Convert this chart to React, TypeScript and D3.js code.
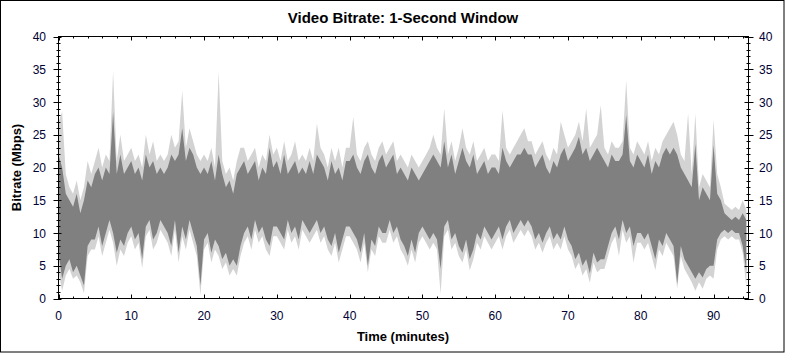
import React from "react";
import * as d3 from "d3";

const W = 785;
const H = 353;

const title = "Video Bitrate: 1-Second Window";
const xLabel = "Time (minutes)";
const yLabel = "Bitrate (Mbps)";
const xTicks = [0, 10, 20, 30, 40, 50, 60, 70, 80, 90];
const yTicks = [0, 5, 10, 15, 20, 25, 30, 35, 40];
const xEnd = 94.8;
const step = 0.5; // minutes per sample

// samples every 0.5 minute, t = 0 ... 94.5
const lightMax = [
  27, 28.5, 19, 17, 16, 18, 15, 17, 21, 19,
  21, 23, 20, 22, 21, 34.7, 21, 25, 21, 22,
  23, 21, 22, 20, 25, 22, 24, 21, 22, 21,
  22, 25, 23, 24, 31.7, 23, 26, 24, 22, 21,
  22, 21, 23, 20, 34.6, 21, 19, 20, 18, 21,
  23, 23, 21, 22, 23, 20, 22, 21, 25, 22,
  23, 21, 24, 21, 22, 24, 21, 22, 21, 23,
  21, 26.7, 23, 22, 20, 23, 21, 23, 20, 23,
  23, 27.7, 22, 21, 23, 24, 22, 21, 23, 24,
  22, 23, 24, 21, 22, 21, 20, 22, 21, 20,
  21, 22, 23, 25, 23, 22, 29, 22, 24, 21,
  23, 26, 23, 22, 24, 21, 22, 23, 21, 22,
  22, 21, 28.7, 23, 22, 23, 24, 25, 26, 24,
  24, 22, 23, 24, 22, 21, 23, 22, 27, 25,
  23, 24, 25, 27, 24, 29, 23, 24, 25, 29.5,
  23, 22, 24, 23, 23, 24, 33.3, 23, 22, 24,
  23, 22, 24, 21, 23, 22, 24, 25, 26, 27,
  25, 22, 21, 28.3, 19, 28.2, 17, 19, 18, 17,
  27.2, 19, 17, 14.5, 14, 13.5, 14, 13.5, 15, 13.5,
];
const darkMax = [
  22, 20, 16, 15, 14, 16, 13, 15, 18, 17,
  19, 20, 18, 20, 19, 28.5, 19, 22, 19, 20,
  21, 19, 20, 18, 22, 20, 21, 19, 20, 19,
  20, 22, 21, 22, 26, 21, 23, 22, 20, 19,
  20, 19, 21, 18, 22, 19, 17, 18, 16, 19,
  20, 21, 19, 20, 21, 18, 20, 19, 23, 20,
  21, 19, 22, 19, 20, 21, 19, 20, 19, 21,
  19, 22, 21, 20, 18, 21, 19, 20, 18, 21,
  21, 22, 20, 19, 21, 22, 20, 19, 21, 22,
  20, 21, 22, 19, 20, 19, 18, 20, 19, 18,
  19, 20, 21, 22, 21, 20, 24, 20, 22, 19,
  21, 23, 21, 20, 22, 19, 20, 21, 19, 20,
  20, 19, 23, 21, 20, 21, 22, 22, 23, 22,
  22, 20, 21, 22, 20, 19, 21, 20, 22, 23,
  21, 22, 23, 24.7, 22, 23, 21, 22, 23, 22,
  21, 20, 22, 21, 21, 22, 28, 21, 20, 22,
  21, 20, 22, 19, 21, 20, 22, 23, 22, 23,
  22, 20, 19, 18, 17, 23.6, 15, 17, 16, 15,
  23.4, 16, 15, 13, 12.5, 12, 12.5, 12, 13, 12,
];
const darkMin = [
  7, 3, 5, 6, 4, 5, 3.5, 2, 8, 9,
  9, 11, 8, 10, 12, 10, 7, 9, 8, 10,
  11, 9, 10, 6, 11, 12, 9, 10, 12, 11,
  10, 8, 12, 7, 11, 9, 12, 10, 8, 2,
  9, 10, 7, 9, 8, 6, 7, 5, 6, 5,
  8, 10, 11, 9, 12, 10, 11, 9, 8, 11,
  11, 10, 9, 12, 10, 11, 9, 12, 11, 10,
  11, 12, 10, 11, 9, 8, 10, 7, 9, 11,
  11, 10, 9, 7, 10, 5, 9, 8, 11, 10,
  10, 12, 10, 11, 9, 8, 6.5, 9, 7, 10,
  11, 10, 9, 10, 9, 4.5, 11, 12, 9, 10,
  8, 7, 9, 6, 7.5, 10, 9, 11, 10, 9,
  10, 11, 9, 11, 12, 10, 11, 12, 11, 12,
  11, 9, 10, 8.5, 10, 11, 9, 10, 9, 11,
  9, 8, 6, 7, 5, 6, 3.8, 7, 5.5, 6,
  6, 8, 10, 11, 9, 12, 10, 11, 8, 10,
  10, 9, 10, 8, 6, 9, 8, 10, 9, 8,
  2.2, 8, 6, 5, 4, 3, 4, 3.2, 4.5, 5,
  5, 9, 10, 10.5, 10, 10.5, 10, 10, 8, 4,
];
const lightMin = [
  4, 1.2, 3.5, 4.5, 3, 3.5, 2.5, 0.8, 6.5, 7.5,
  7.5, 9.5, 6.5, 8.5, 10.5, 8.5, 5, 7.5, 6.5, 8.5,
  9.5, 7.5, 8.5, 4.6, 9.5, 10.5, 7.5, 8.5, 10.5, 9.5,
  8.5, 6.5, 10.5, 5.5, 9.5, 7.5, 10.5, 8.5, 6.5, 0.5,
  7.5, 8.5, 5.5, 7.5, 6.5, 4.5, 5.5, 3.5, 4.5, 3.5,
  6.5, 8.5, 9.5, 7.5, 10.5, 8.5, 9.5, 7.5, 6.5, 9.5,
  9.5, 8.5, 7.5, 10.5, 8.5, 9.5, 7.5, 10.5, 9.5, 8.5,
  9.5, 10.5, 8.5, 9.5, 7.5, 6.5, 8.5, 5.5, 7.5, 9.5,
  9.5, 8.5, 7.5, 5.5, 8.5, 4, 7.5, 6.5, 9.5, 8.5,
  8.5, 10.5, 8.5, 9.5, 7.5, 6.5, 5, 7.5, 5.5, 8.5,
  9.5, 8.5, 7.5, 8.5, 7.5, 0.7, 9.5, 10.5, 7.5, 8.5,
  6.5, 5.5, 7.5, 4.3, 6, 8.5, 7.5, 9.5, 8.5, 7.5,
  8.5, 9.5, 7.5, 9.5, 10.5, 8.5, 9.5, 10.5, 9.5, 10.5,
  9.5, 7.5, 8.5, 7, 8.5, 9.5, 7.5, 8.5, 7.5, 9.5,
  7.5, 6.5, 4.5, 5.5, 3.5, 4.5, 2.4, 5.5, 4, 4.5,
  4.5, 6.5, 8.5, 9.5, 6.5, 10.5, 8.5, 9.5, 5.5, 8.5,
  8.5, 7.5, 8.5, 6.5, 4.3, 7.5, 6.5, 8.5, 7.5, 6.5,
  1.5, 6.5, 4.5, 3.5, 2.5, 1.2, 2.5, 1.5, 3, 3.5,
  3, 7.5, 9, 9.5, 9, 9.5, 9, 9, 7, 1.7,
];

const L = 58.5, R = 748.5, T = 36.5, B = 298.5;

export default function App() {
  const x = d3.scaleLinear().domain([0, xEnd]).range([L, R]);
  const y = d3.scaleLinear().domain([0, 40]).range([B, T]);
  const idx = d3.range(lightMax.length);
  const tOf = (i: number) => i * step;

  const lightArea = d3
    .area<number>()
    .x((i) => x(tOf(i)))
    .y0((i) => y(lightMin[i]))
    .y1((i) => y(lightMax[i]))
    .curve(d3.curveLinear);
  const darkArea = d3
    .area<number>()
    .x((i) => x(tOf(i)))
    .y0((i) => y(darkMin[i]))
    .y1((i) => y(darkMax[i]))
    .curve(d3.curveLinear);

  const minorX = d3.range(0, xEnd, 2).filter((v) => v % 10 !== 0);
  const minorY = d3.range(0, 41, 1).filter((v) => v % 5 !== 0);
  const font = "Arial, 'Liberation Sans', sans-serif";
  const tickColor = "#000033";

  return (
    <svg
      width={W}
      height={H}
      style={{ position: "absolute", left: 0, top: 0, background: "#fff" }}
      fontFamily={font}
    >
      <rect x={0.5} y={0.5} width={783.5} height={351.5} fill="#fff" stroke="#000" />
      <text x={403} y={23} textAnchor="middle" fontSize={15} fontWeight="bold" fill="#000">
        {title}
      </text>
      <defs>
        <clipPath id="plotclip">
          <rect x={L} y={T} width={R - L} height={B - T} />
        </clipPath>
      </defs>
      <g clipPath="url(#plotclip)">
        <path d={lightArea(idx) || ""} fill="#d3d3d3" />
        <path d={darkArea(idx) || ""} fill="#808080" />
      </g>
      <rect x={L} y={T} width={R - L} height={B - T} fill="none" stroke="#000" strokeWidth={1} />
      {xTicks.map((v) => (
        <g key={"xt" + v}>
          <line x1={Math.round(x(v)) + 0.5} x2={Math.round(x(v)) + 0.5} y1={B} y2={B - 4} stroke="#000" />
          <line x1={Math.round(x(v)) + 0.5} x2={Math.round(x(v)) + 0.5} y1={T} y2={T + 4} stroke="#000" />
          <text x={x(v)} y={320} textAnchor="middle" fontSize={12} fill={tickColor}>
            {v}
          </text>
        </g>
      ))}
      {minorX.map((v) => (
        <g key={"xm" + v}>
          <line x1={Math.round(x(v)) + 0.5} x2={Math.round(x(v)) + 0.5} y1={B} y2={B - 2} stroke="#000" />
          <line x1={Math.round(x(v)) + 0.5} x2={Math.round(x(v)) + 0.5} y1={T} y2={T + 2} stroke="#000" />
        </g>
      ))}
      {yTicks.map((v) => (
        <g key={"yt" + v}>
          <line x1={L - 5} x2={L + 3} y1={Math.round(y(v)) + 0.5} y2={Math.round(y(v)) + 0.5} stroke="#000" />
          <line x1={R - 4} x2={R + 5} y1={Math.round(y(v)) + 0.5} y2={Math.round(y(v)) + 0.5} stroke="#000" />
          <text x={46} y={y(v) + 4.5} textAnchor="end" fontSize={12} fill={tickColor}>
            {v}
          </text>
          <text x={759} y={y(v) + 4.5} textAnchor="start" fontSize={12} fill={tickColor}>
            {v}
          </text>
        </g>
      ))}
      {minorY.map((v) => (
        <g key={"ym" + v}>
          <line x1={L - 2} x2={L + 2} y1={Math.round(y(v)) + 0.5} y2={Math.round(y(v)) + 0.5} stroke="#000" />
          <line x1={R - 2} x2={R + 2} y1={Math.round(y(v)) + 0.5} y2={Math.round(y(v)) + 0.5} stroke="#000" />
        </g>
      ))}
      <text x={403} y={341} textAnchor="middle" fontSize={13} fontWeight="bold" fill="#000">
        {xLabel}
      </text>
      <text
        transform={`translate(21, ${(T + B) / 2}) rotate(-90)`}
        textAnchor="middle"
        fontSize={13}
        fontWeight="bold"
        fill="#000"
      >
        {yLabel}
      </text>
    </svg>
  );
}
